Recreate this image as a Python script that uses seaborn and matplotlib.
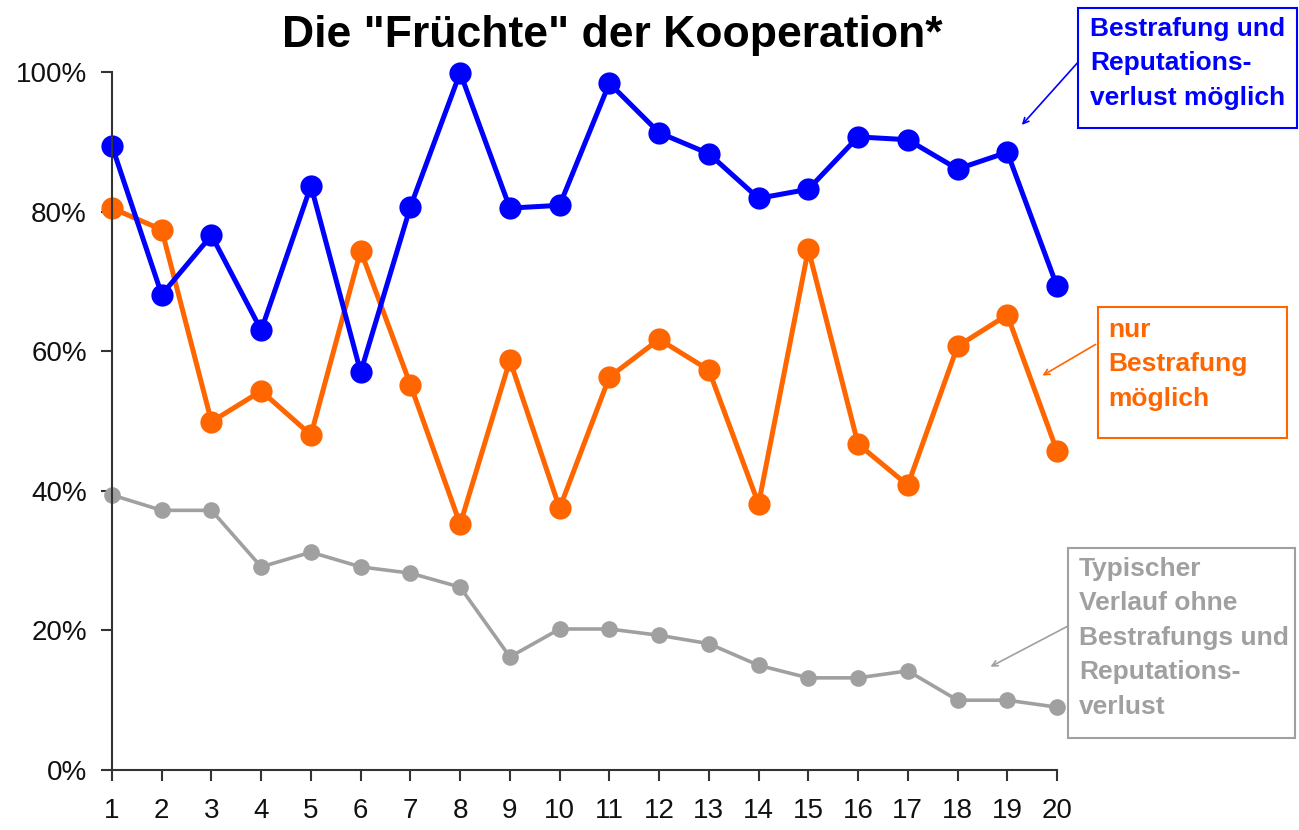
import pandas as pd
import numpy as np
import seaborn as sns
import matplotlib.pyplot as plt
from matplotlib.patches import Rectangle

# data (share of cooperation per round)
runde = list(range(1, 21))
bestrafung_reputation = [89.4, 68.1, 76.6, 63.0, 83.7, 57.0, 80.7, 99.9, 80.5, 80.9,
                         98.4, 91.3, 88.3, 81.9, 83.2, 90.7, 90.3, 86.1, 88.5, 69.3]
nur_bestrafung = [80.5, 77.4, 49.9, 54.3, 48.0, 74.4, 55.2, 35.2, 58.7, 37.5,
                  56.3, 61.7, 57.3, 38.1, 74.6, 46.7, 40.8, 60.7, 65.2, 45.7]
typisch = [39.4, 37.2, 37.2, 29.1, 31.2, 29.1, 28.2, 26.2, 16.2, 20.2,
           20.2, 19.3, 18.1, 15.0, 13.2, 13.2, 14.2, 10.0, 10.0, 9.0]
y_ticks = [0, 20, 40, 60, 80, 100]

blau = '#0000FF'
orange = '#FF6600'
grau = '#A0A0A0'

df = pd.DataFrame({'runde': runde,
                   'blau': np.array(bestrafung_reputation) / 100,
                   'orange': np.array(nur_bestrafung) / 100,
                   'grau': np.array(typisch) / 100})

sns.set_style('white')
plt.rcParams['font.family'] = ['Liberation Sans', 'DejaVu Sans']

fig = plt.figure(figsize=(12.99, 8.30), dpi=100)
ax = fig.add_axes([112/1299, 1 - 770/830, (1057-112)/1299, (770-72)/830])

sns.lineplot(x='runde', y='grau', data=df, ax=ax, color=grau, lw=2.6,
             marker='o', markersize=12, markeredgewidth=0, clip_on=False)
sns.lineplot(x='runde', y='orange', data=df, ax=ax, color=orange, lw=3.6,
             marker='o', markersize=16, markeredgewidth=0, clip_on=False)
sns.lineplot(x='runde', y='blau', data=df, ax=ax, color=blau, lw=3.6,
             marker='o', markersize=16, markeredgewidth=0, clip_on=False)

ax.set_xlim(1, 20)
ax.set_ylim(0, 1)
ax.set_xticks(runde)
ax.set_xticklabels([str(r) for r in runde], fontsize=20)
ax.set_yticks([t / 100 for t in y_ticks])
ax.set_yticklabels([f'{t}%' for t in y_ticks], fontsize=20)
ax.set_xlabel('')
ax.set_ylabel('')
for s in ['top', 'right']:
    ax.spines[s].set_visible(False)
for s in ['left', 'bottom']:
    ax.spines[s].set_color('#333333')
    ax.spines[s].set_linewidth(1.5)
ax.tick_params(axis='both', direction='out', length=8, width=1.5, color='#333333',
               labelcolor='#111111', left=True, bottom=True)
ax.tick_params(axis='x', pad=12)
ax.tick_params(axis='y', pad=10)

fig.text(612/1299, 1 - 47/830, 'Die "Früchte" der Kooperation*', ha='center',
         va='baseline', fontsize=32, fontweight='bold', color='black')

H = 830
# annotation boxes (figure pixels, y from top)
boxes = [
    (1078, 8, 219, 120, blau, 'Bestrafung und\nReputations-\nverlust möglich', 1090, 17, (1080, 60), (1020, 127)),
    (1098, 307, 189, 131, orange, 'nur\nBestrafung\nmöglich', 1108, 318, (1098, 343), (1040, 377)),
    (1068, 548, 227, 190, grau, 'Typischer\nVerlauf ohne\nBestrafungs und\nReputations-\nverlust', 1079, 557, (1070, 625), (988, 668)),
]
for bx, by, bw, bh, c, txt, tx, ty, start, end in boxes:
    fig.patches.append(Rectangle((bx/1299, 1 - (by + bh)/H), bw/1299, bh/H,
                                 transform=fig.transFigure, fill=False, edgecolor=c, lw=1.5))
    fig.text(tx/1299, 1 - ty/H, txt, color=c, fontsize=19, fontweight='bold',
             ha='left', va='top', linespacing=1.55)
    ax.annotate('', xy=(end[0], H - end[1]), xycoords='figure pixels',
                xytext=(start[0], H - start[1]), textcoords='figure pixels',
                arrowprops=dict(arrowstyle='->', color=c, lw=1.2))

fig.savefig('out.png', dpi=100)
